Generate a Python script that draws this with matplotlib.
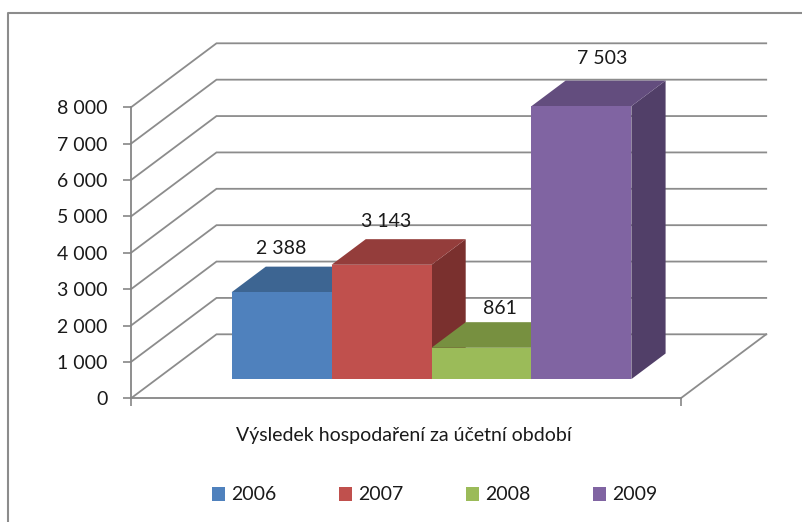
import matplotlib
matplotlib.use("Agg")
import matplotlib.pyplot as plt
from matplotlib.patches import Polygon, Patch
from matplotlib.lines import Line2D

plt.rcParams['font.family'] = ['Lato', 'DejaVu Sans']

years = ['2006', '2007', '2008', '2009']
values = [2388, 3143, 861, 7503]
yticks = [0, 1000, 2000, 3000, 4000, 5000, 6000, 7000, 8000]
axis_title = 'Výsledek hospodaření za účetní období'

front_colors = ['#4F81BD', '#C0504D', '#9BBB59', '#8064A2']
top_colors = ['#3D6592', '#943D3B', '#779040', '#634D7E']
side_colors = ['#334F75', '#7A302E', '#5F7433', '#513F68']
grid_col = '#8c8c8c'
text_col = '#1a1a1a'

W, H = 803, 522
fig = plt.figure(figsize=(W / 100, H / 100), dpi=100)
left, right, top, bottom = 131, 680.7, 107.3, 398.3
ax = fig.add_axes([left / W, 1 - bottom / H, (right - left) / W, (bottom - top) / H])
x0, x1 = -1.25, 4.25
ax.set_xlim(x0, x1)
ax.set_ylim(0, 8000)
ax.patch.set_alpha(0)

px_x = (right - left) / (x1 - x0)      # pixels per x unit
px_y = (bottom - top) / 8000           # pixels per value unit
DX = 85.5 / px_x                       # depth of the whole plot
DY = 64 / px_y
f1 = 0.30                              # depth where bar fronts sit
fd = 0.40                              # bar depth
dX, dY = fd * DX, fd * DY

# walls: diagonal on the side wall + horizontal on the back wall
for v in yticks:
    ax.plot([x0, x0 + DX, x1 + DX], [v, v + DY, v + DY], color=grid_col,
            lw=1.3, zorder=0, clip_on=False, solid_joinstyle='miter')
ax.plot([x1, x1 + DX], [0, DY], color=grid_col, lw=1.3, zorder=0, clip_on=False)

# bars
xs = [i + f1 * DX for i in range(len(values))]
base = f1 * DY
for i, (x, v) in enumerate(zip(xs, values)):
    xl, xr, t = x - 0.5, x + 0.5, base + v
    z = 2 + i
    ax.add_patch(Polygon([(xr, base), (xr, t), (xr + dX, t + dY), (xr + dX, base + dY)],
                         closed=True, fc=side_colors[i], ec='none', zorder=z, clip_on=False))
    ax.add_patch(Polygon([(xl, t), (xr, t), (xr + dX, t + dY), (xl + dX, t + dY)],
                         closed=True, fc=top_colors[i], ec='none', zorder=z, clip_on=False))
    ax.bar([x], [v], width=1.0, bottom=base, color=front_colors[i], zorder=z,
           clip_on=False, linewidth=0)

# data labels
label_dx = [0, 5, 18, 21]
label_dy = [18, 18, 14, 22]
for i, (x, v) in enumerate(zip(xs, values)):
    ax.annotate(f"{v:,}".replace(",", " "), (x, base + v + dY),
                xytext=(label_dx[i], label_dy[i]), textcoords='offset pixels',
                ha='center', va='center', fontsize=14, color=text_col,
                annotation_clip=False, zorder=10)

# axes
for s in ['top', 'right']:
    ax.spines[s].set_visible(False)
for s in ['left', 'bottom']:
    ax.spines[s].set_color('#868686')
    ax.spines[s].set_linewidth(1.3)
    ax.spines[s].set_zorder(1)
ax.set_yticks(yticks)
ax.set_yticklabels([f"{v:,}".replace(",", " ") for v in yticks])
ax.set_xticks([x0, x1])
ax.set_xticklabels([])
ax.tick_params(axis='both', direction='out', length=6, width=1.2, color='#868686',
               labelsize=14, labelcolor=text_col)
ax.tick_params(axis='y', pad=11)

fig.text(404 / W, 1 - 436 / H, axis_title, ha='center', va='center',
         fontsize=14, color=text_col)

handles = [Patch(facecolor=c, edgecolor='none') for c in front_colors]
fig.legend(handles, years, loc='center', bbox_to_anchor=(434.5 / W, 1 - 495 / H),
           ncol=4, frameon=False, fontsize=14, handlelength=0.7, handleheight=0.7,
           handletextpad=0.3, columnspacing=3.2, labelcolor=text_col)

# outer frame (only left and top edges visible)
fig.add_artist(Line2D([8 / W, 8 / W, 1], [0, 1 - 13 / H, 1 - 13 / H],
                      color='#8c8c8c', lw=1.5, transform=fig.transFigure))

fig.savefig('out.png', dpi=100)
